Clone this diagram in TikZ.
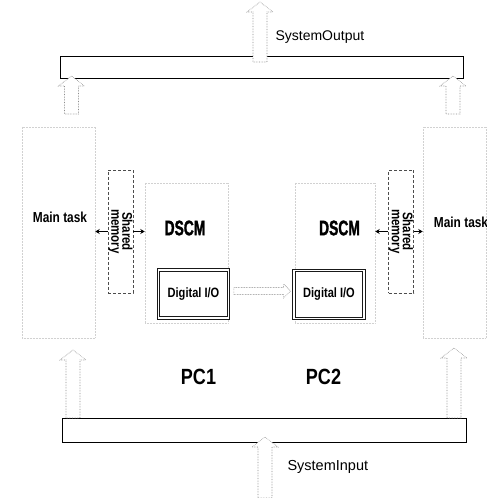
\documentclass[tikz,border=0pt]{standalone}
\usepackage{fontspec}
\setmainfont{Liberation Sans}
\newfontfamily\condfont[FakeStretch=0.82]{Liberation Sans}
\newfontfamily\tightfont[FakeStretch=0.66,FakeBold=1.5]{Liberation Sans}
\usetikzlibrary{calc,arrows.meta}

\begin{document}
\begin{tikzpicture}[x=1pt,y=1pt,
  faint/.style={draw=black!18,densely dotted,line width=0.5pt,inner sep=0pt},
  bus/.style={draw=black,line width=0.9pt,inner sep=0pt,minimum width=403pt},
  shmbox/.style={draw=black!70,densely dashed,line width=0.6pt,minimum width=25pt,minimum height=123pt,inner sep=0pt},
  shmtxt/.style={rotate=-90,align=center,inner sep=0pt,font=\condfont\bfseries\fontsize{14}{11}\selectfont},
  dio/.style={draw=black!90,double=white,double distance=1.6pt,line width=0.8pt,minimum width=70pt,minimum height=48pt,inner sep=0pt,font=\condfont\bfseries\fontsize{13.5}{16}\selectfont},
  smallarr/.style={line width=1pt,-{Stealth[length=4.5pt,width=5pt]}},
  blockup/.style={fill=white,draw=black!45,densely dotted,line width=0.6pt,
    to path={($(\tikztostart)+(-7,0)$) -- ($(\tikztotarget)+(-7,-10)$) -- ($(\tikztotarget)+(-13,-10)$) -- (\tikztotarget) -- ($(\tikztotarget)+(13,-10)$) -- ($(\tikztotarget)+(7,-10)$) -- ($(\tikztostart)+(7,0)$) -- cycle}},
  blockright/.style={fill=white,draw=black!45,densely dotted,line width=0.6pt,
    to path={($(\tikztostart)+(0,-3.5)$) -- ($(\tikztotarget)+(-7,-3.5)$) -- ($(\tikztotarget)+(-7,-7)$) -- (\tikztotarget) -- ($(\tikztotarget)+(-7,7)$) -- ($(\tikztotarget)+(-7,3.5)$) -- ($(\tikztostart)+(0,3.5)$) -- cycle}}]
\useasboundingbox (0,0) rectangle (487,498);
\node[bus,minimum height=22pt] (top) at (262,431) {};
\draw[line width=1.8pt] (top.south west) -- (top.south east);
\node[bus,minimum height=24pt,minimum width=404pt] (bot) at (264,68) {};
\node[faint,minimum width=73pt,minimum height=211pt] (mainL) at (58.5,265.5) {};
\node[faint,minimum width=63pt,minimum height=211pt] (mainR) at (454.5,265.5) {};
\node[faint,minimum width=83pt,minimum height=140pt] (dscmL) at (186.5,245) {};
\node[faint,minimum width=80pt,minimum height=140pt] (dscmR) at (335,245) {};
\node[font=\condfont\bfseries\fontsize{14.5}{16}\selectfont] at (60,281) {Main task};
\node[font=\condfont\bfseries\fontsize{14.5}{16}\selectfont] at (461,276) {Main task};
\node[font=\tightfont\bfseries\fontsize{21}{24}\selectfont] at (185,270) {DSCM};
\node[font=\tightfont\bfseries\fontsize{21}{24}\selectfont] at (339.5,270) {DSCM};
\node[shmbox] (shmL) at (120.5,266.5) {};
\node[shmbox] (shmR) at (401,266.5) {};
\node[shmtxt] at (shmL) {Shared\\memory};
\node[shmtxt] at (shmR) {Shared\\memory};
\node[dio] (dioL) at (193.5,204) {Digital I/O};
\node[dio] (dioR) at (329,203.5) {Digital I/O};
\draw[smallarr] (shmL.west) -- (shmL.west -| mainL.east);
\draw[smallarr] (shmL.east) -- (shmL.east -| dscmL.west);
\draw[smallarr] (shmR.west) -- (shmR.west -| dscmR.east);
\draw[smallarr] (shmR.east) -- (shmR.east -| mainR.west);
\coordinate (hS) at ($(dioL.east)+(5,3)$); \coordinate (hT) at ($(dioR.west)+(-3,3.5)$);
\draw[blockright] (hS) to (hT);
\coordinate (OS) at (260,436); \coordinate (OT) at (260,496);
\coordinate (IS) at (265,0); \coordinate (IT) at (265,61);
\coordinate (TLS) at (71.5,384); \coordinate (TLT) at (71.5,422);
\coordinate (TRS) at (453,384); \coordinate (TRT) at (453,422);
\coordinate (BLS) at (73,80); \coordinate (BLT) at (73,148);
\coordinate (BRS) at (454,80); \coordinate (BRT) at (454,150);
\draw[blockup] (OS) to (OT);
\draw[blockup] (IS) to (IT);
\draw[blockup] (TLS) to (TLT);
\draw[blockup] (TRS) to (TRT);
\draw[blockup] (BLS) to (BLT);
\draw[blockup] (BRS) to (BRT);
\node[anchor=west,font=\fontsize{14}{16}\selectfont] at (272,461) {SystemOutput};
\node[anchor=west,font=\fontsize{14.5}{16}\selectfont] at (284,31) {SystemInput};
\node[font=\condfont\bfseries\fontsize{22}{24}\selectfont] at (198.5,121) {PC1};
\node[font=\condfont\bfseries\fontsize{22}{24}\selectfont] at (323.5,121) {PC2};
\end{tikzpicture}
\end{document}
